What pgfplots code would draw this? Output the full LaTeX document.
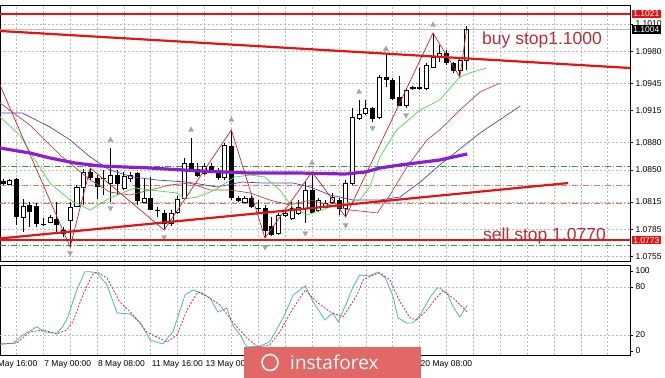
\documentclass[border=0pt]{standalone}
\usepackage{fontspec}
\setmainfont{Liberation Sans}
\newfontfamily\logofont{Open Sans}
\usepackage{pgfplots}
\usepackage{pgfplotstable}
\pgfplotsset{compat=1.18}

\definecolor{trendred}{RGB}{228,20,20}
\definecolor{textred}{RGB}{190,45,55}
\definecolor{mapurple}{RGB}{140,30,210}
\definecolor{mablue}{RGB}{70,70,200}
\definecolor{magreen}{RGB}{90,220,90}
\definecolor{mabrown}{RGB}{190,70,70}
\definecolor{zzred}{RGB}{205,35,45}
\definecolor{dgreen}{RGB}{60,150,60}
\definecolor{dorange}{RGB}{225,120,90}
\definecolor{gridgray}{RGB}{185,185,185}
\definecolor{pricegray}{RGB}{190,190,190}
\definecolor{stochteal}{RGB}{90,190,180}
\definecolor{stochred}{RGB}{210,50,70}
\definecolor{logored}{RGB}{226,104,104}
\definecolor{fractal}{RGB}{165,165,165}

\pgfplotstableread{
i o h l c
0 1.08378 1.08400 1.08335 1.08356
1 1.08346 1.08400 1.08335 1.08389
2 1.08400 1.08411 1.07896 1.07994
3 1.07983 1.08181 1.07819 1.08104
4 1.08115 1.08148 1.07874 1.08049
5 1.08104 1.08137 1.07874 1.07918
6 1.07907 1.07973 1.07885 1.07901
7 1.07929 1.08005 1.07918 1.07983
8 1.07962 1.08148 1.07808 1.07907
9 1.07808 1.07874 1.07764 1.07841
10 1.07951 1.08148 1.07654 1.08093
11 1.08104 1.08335 1.08093 1.08313
12 1.08313 1.08510 1.08115 1.08477
13 1.08477 1.08521 1.08389 1.08422
14 1.08411 1.08444 1.08181 1.08324
15 1.08411 1.08499 1.08225 1.08406
16 1.08356 1.08740 1.08148 1.08444
17 1.08444 1.08499 1.08225 1.08356
18 1.08302 1.08477 1.08280 1.08433
19 1.08411 1.08477 1.08367 1.08444
20 1.08466 1.08477 1.08115 1.08170
21 1.08148 1.08411 1.08137 1.08192
22 1.08192 1.08422 1.08060 1.08071
23 1.08060 1.08093 1.07983 1.08055
24 1.08027 1.08060 1.07852 1.07918
25 1.07918 1.08060 1.07885 1.08027
26 1.08038 1.08214 1.08016 1.08181
27 1.08192 1.08631 1.08181 1.08576
28 1.08576 1.08850 1.08477 1.08499
29 1.08510 1.08576 1.08422 1.08444
30 1.08466 1.08576 1.08444 1.08543
31 1.08543 1.08576 1.08477 1.08488
32 1.08488 1.08521 1.08389 1.08422
33 1.08422 1.08795 1.08389 1.08773
34 1.08762 1.08938 1.08170 1.08203
35 1.08192 1.08214 1.08148 1.08170
36 1.08148 1.08214 1.08137 1.08192
37 1.08192 1.08214 1.08082 1.08104
38 1.08082 1.08170 1.08038 1.08077
39 1.08082 1.08115 1.07753 1.07841
40 1.07885 1.07983 1.07775 1.07797
41 1.07808 1.08027 1.07786 1.08005
42 1.08005 1.08060 1.07983 1.08027
43 1.07973 1.08148 1.07951 1.08082
44 1.08027 1.08170 1.08005 1.08093
45 1.08082 1.08367 1.07918 1.08280
46 1.08280 1.08477 1.08027 1.08038
47 1.08060 1.08192 1.08038 1.08170
48 1.08093 1.08170 1.08082 1.08137
49 1.08148 1.08247 1.08126 1.08203
50 1.08170 1.08192 1.08005 1.08082
51 1.08082 1.08389 1.07983 1.08356
52 1.08356 1.09179 1.08335 1.09081
53 1.09070 1.09267 1.09048 1.09113
54 1.09124 1.09267 1.09102 1.09179
55 1.09179 1.09190 1.09026 1.09070
56 1.09081 1.09541 1.09059 1.09519
57 1.09519 1.09783 1.09410 1.09497
58 1.09486 1.09508 1.09267 1.09289
59 1.09300 1.09530 1.09201 1.09212
60 1.09212 1.09399 1.09179 1.09377
61 1.09399 1.09421 1.09377 1.09404
62 1.09399 1.09618 1.09377 1.09410
63 1.09399 1.09673 1.09377 1.09651
64 1.09629 1.10002 1.09618 1.09739
65 1.09739 1.09870 1.09684 1.09783
66 1.09783 1.09816 1.09651 1.09684
67 1.09673 1.09684 1.09563 1.09596
68 1.09596 1.09739 1.09519 1.09706
69 1.09706 1.10079 1.09596 1.10040
}\candles

\pgfplotstableread{
x y
-0.43 1.08740
4.0 1.08686
7.0 1.08631
10.7 1.08576
14.5 1.08543
21.9 1.08521
29.3 1.08488
36.8 1.08466
44.2 1.08466
50.9 1.08455
53.9 1.08477
56.1 1.08521
59.1 1.08554
65.0 1.08609
69.1 1.08675
}\maPurple

\pgfplotstableread{
x y
-0.43 1.09081
2.5 1.08883
4.8 1.08609
7.0 1.08356
10.0 1.08170
13.0 1.08060
15.9 1.08192
19.7 1.08302
21.9 1.08280
25.9 1.08247
27.1 1.08181
28.9 1.08203
31.6 1.08280
34.5 1.08422
36.8 1.08444
39.0 1.08422
41.2 1.08280
43.2 1.08082
45.3 1.08005
48.7 1.08093
53.1 1.08170
54.6 1.08313
56.1 1.08642
58.6 1.08938
62.1 1.09157
65.0 1.09267
68.0 1.09519
69.9 1.09574
72.0 1.09618
}\maGreen

\pgfplotstableread{
x y
-0.43 1.09234
4.0 1.08993
8.5 1.08664
13.0 1.08389
15.9 1.08258
18.9 1.08225
21.9 1.08280
24.9 1.08335
27.8 1.08356
30.8 1.08280
33.8 1.08280
36.8 1.08247
39.7 1.08170
42.7 1.08115
45.7 1.08170
48.7 1.08115
51.6 1.08060
54.6 1.08038
55.7 1.08027
57.6 1.08225
60.1 1.08532
63.1 1.08828
65.0 1.08938
68.0 1.09157
71.0 1.09355
74.0 1.09453
}\maBrown

\pgfplotstableread{
x y
-0.43 1.09124
2.9 1.09124
7.0 1.08971
10.0 1.08828
13.0 1.08642
15.9 1.08499
19.4 1.08422
23.0 1.08389
27.4 1.08367
31.9 1.08313
35.6 1.08367
39.0 1.08356
43.2 1.08356
45.7 1.08313
48.7 1.08225
52.1 1.08170
56.1 1.08170
59.1 1.08203
62.1 1.08367
65.0 1.08554
71.0 1.08905
77.0 1.09201
}\maBlue

\pgfplotstableread{
x y
-0.43 1.09432
10 1.07654
13 1.08521
24 1.07841
34 1.08938
39 1.07753
46 1.08477
51 1.07983
64 1.10002
68 1.09519
69 1.10040
}\zigzag

\pgfplotstableread{
x y
-0.43 8.4
1.5 9.6
3.0 20
5.1 30.4
6.0 24.1
8.0 22.1
8.9 30.4
9.7 42.9
10.4 61.6
11.2 80.4
12.2 99
13.0 99
14.0 97.5
15.5 82.5
17.0 47.5
18.9 46.3
20.4 36.3
21.9 13.8
23.8 8.8
25.3 23.8
27.1 70
28.3 76.3
29.6 72.5
30.8 66.3
32.0 48.8
33.3 53.8
34.2 32.5
35.3 20
36.3 5
38.3 6.3
39.7 11.3
41.7 41.3
43.2 70
45.0 81.3
46.2 61.3
47.9 38.8
49.1 47.5
49.9 36.3
51.2 61.3
52.1 80
53.1 95
54.6 93.8
55.8 98.8
56.9 91.3
58.0 70
58.8 41.3
60.1 35
61.0 35
62.1 45
63.5 66.3
64.6 78.8
65.0 78.8
66.1 72.5
67.0 55
68.0 42.5
69.1 57.5
}\stochMain

\pgfplotstableread{
x y
-0.43 8.8
2.1 10
4.0 23.8
6.0 26.3
8.0 21.3
9.5 26.3
10.4 36.3
11.9 70
13.3 95
14.0 98.8
15.5 91.3
17.4 61.3
19.4 45
21.4 23.8
24.4 11.3
25.9 20
27.4 51.3
29.0 73.8
30.8 66.3
32.3 57.5
34.2 36.3
36.3 16.3
38.0 5
39.7 7.5
41.2 23.8
43.2 53.8
45.0 76.3
46.7 61.3
48.7 48.8
50.6 42.5
52.7 70
53.6 88.8
55.1 95
56.1 97.5
57.6 88.8
59.1 61.3
60.6 41.3
61.6 38.8
63.1 51.3
64.6 67.5
65.5 75
67.0 66.3
68.5 53.8
69.1 48.8
}\stochSignal

\begin{document}
\begin{tikzpicture}[font=\fontsize{8.5}{10}\selectfont]
% ---------------- main price panel ----------------
\begin{axis}[
  at={(0pt,117pt)}, anchor=south west,
  scale only axis, width=630pt, height=256pt,
  xmin=-0.43, xmax=93.32, ymin=1.07501, ymax=1.10309,
  clip mode=individual,
  axis line style={black, line width=0.8pt},
  xtick={2,6,...,90}, xticklabel=\empty,
  x tick style={draw=none},
  ytick={1.0755,1.0785,1.0815,1.0850,1.0880,1.0915,1.0945,1.0980,1.1010},
  ytick pos=right, yticklabel pos=right,
  tick align=outside, major tick length=3pt,
  y tick style={black, line width=0.5pt},
  scaled y ticks=false,
  yticklabel style={/pgf/number format/fixed, /pgf/number format/precision=4,
    /pgf/number format/fixed zerofill, /pgf/number format/assume math mode=true,
    font=\fontsize{8.5}{10}\selectfont, xshift=-1pt},
  grid=major, grid style={gridgray, dash pattern=on 2pt off 2pt, line width=0.5pt},
]
% horizontal level lines
\addplot[dgreen, line width=0.8pt, dash pattern=on 6pt off 2pt on 1pt off 2pt] coordinates {(-0.43,1.0854) (93.32,1.0854)};
\addplot[dgreen, line width=0.8pt, dash pattern=on 6pt off 2pt on 1pt off 2pt] coordinates {(-0.43,1.07676) (93.32,1.07676)};
\addplot[dorange, line width=0.8pt, dash pattern=on 6pt off 2pt on 1pt off 2pt] coordinates {(-0.43,1.08335) (93.32,1.08335)};
\addplot[dorange, line width=0.8pt, dash pattern=on 6pt off 2pt on 1pt off 2pt] coordinates {(-0.43,1.08137) (93.32,1.08137)};
\addplot[pricegray, line width=0.6pt] coordinates {(-0.43,1.1004) (93.32,1.1004)};
% candles
\pgfplotsinvokeforeach{0,...,69}{%
  \pgfplotstablegetelem{#1}{o}\of\candles\edef\co{\pgfplotsretval}%
  \pgfplotstablegetelem{#1}{h}\of\candles\edef\ch{\pgfplotsretval}%
  \pgfplotstablegetelem{#1}{l}\of\candles\edef\cl{\pgfplotsretval}%
  \pgfplotstablegetelem{#1}{c}\of\candles\edef\cc{\pgfplotsretval}%
  \ifdim\cc pt>\co pt \def\fc{white}\else\def\fc{black}\fi
  \pgfmathsetmacro\xa{#1-0.3}%
  \pgfmathsetmacro\xb{#1+0.3}%
  \edef\doit{\noexpand\addplot[black, line width=0.7pt, forget plot] coordinates {(#1,\cl) (#1,\ch)};%
    \noexpand\addplot[draw=black, fill=\fc, line width=0.6pt, forget plot] coordinates {(\xa,\co) (\xb,\co) (\xb,\cc) (\xa,\cc)} --cycle;}%
  \doit
}
% moving averages
\addplot[mablue, line width=0.7pt] table {\maBlue};
\addplot[mabrown, line width=0.7pt] table {\maBrown};
\addplot[magreen, line width=0.8pt] table {\maGreen};
\addplot[mapurple, line width=3.2pt] table {\maPurple};
\addplot[zzred, line width=0.7pt] table {\zigzag};
% fractals
\addplot[only marks, mark=triangle*, mark size=3pt, fractal] coordinates {(16,1.08828) (28,1.08938) (34,1.09048) (46,1.08576) (53,1.09355) (57,1.09826) (64,1.10090)};
\addplot[only marks, mark=triangle*, mark size=3pt, fractal, mark options={rotate=180}] coordinates {(10,1.07589) (16,1.08082) (24,1.07764) (39,1.07654) (45,1.07808) (51,1.07896) (55,1.08960) (60,1.09102)};
% trend and stop lines
\addplot[trendred, line width=2.2pt] coordinates {(-0.43,1.10024) (93.32,1.09618)};
\addplot[trendred, line width=2.2pt] coordinates {(-0.43,1.07748) (84.1,1.08356)};
\addplot[trendred, line width=2.6pt] coordinates {(-0.43,1.1021) (93.32,1.1021)};
\addplot[trendred, line width=2.6pt] coordinates {(-0.43,1.0773) (93.32,1.0773)};
% price boxes on the scale
\node[fill=trendred, text=white, inner sep=1.2pt, anchor=west, font=\fontsize{8.5}{10}\selectfont] at (axis cs:93.32,1.1021) [xshift=2pt] {1.1021};
\node[fill=black, text=white, inner sep=1.2pt, anchor=west, font=\fontsize{8.5}{10}\selectfont] at (axis cs:93.32,1.1004) [xshift=2pt] {1.1004};
\node[fill=trendred, text=white, inner sep=1.2pt, anchor=west, font=\fontsize{8.5}{10}\selectfont] at (axis cs:93.32,1.0773) [xshift=2pt] {1.0773};
\end{axis}

% ---------------- stochastic panel ----------------
\begin{axis}[
  at={(0pt,23pt)}, anchor=south west,
  scale only axis, width=630pt, height=90pt,
  xmin=-0.43, xmax=93.32, ymin=-5, ymax=107.5,
  clip mode=individual,
  axis line style={black, line width=0.8pt},
  xtick={2,6,...,90}, xticklabel=\empty,
  x tick style={draw=none},
  xmajorgrids, grid style={gridgray, dash pattern=on 2pt off 2pt, line width=0.5pt},
  ytick={0,20,80,100},
  ytick pos=right, yticklabel pos=right,
  tick align=outside, major tick length=3pt,
  y tick style={black, line width=0.5pt},
  yticklabel style={/pgf/number format/assume math mode=true,
    font=\fontsize{8.5}{10}\selectfont, xshift=-1pt},
]
\addplot[gridgray, dash pattern=on 2pt off 2pt, line width=0.5pt] coordinates {(-0.43,20) (93.32,20)};
\addplot[gridgray, dash pattern=on 2pt off 2pt, line width=0.5pt] coordinates {(-0.43,80) (93.32,80)};
\addplot[stochteal, line width=0.9pt] table {\stochMain};
\addplot[stochred, line width=0.8pt, dash pattern=on 2pt off 1.5pt] table {\stochSignal};
\node[anchor=north west, inner sep=0pt] at (axis cs:-2,-5) [yshift=-5pt, xshift=1pt] {5 May 16:00};
\node[anchor=north west, inner sep=0pt] at (axis cs:6,-5) [yshift=-5pt, xshift=1pt] {7 May 00:00};
\node[anchor=north west, inner sep=0pt] at (axis cs:14,-5) [yshift=-5pt, xshift=1pt] {8 May 08:00};
\node[anchor=north west, inner sep=0pt] at (axis cs:22,-5) [yshift=-5pt, xshift=1pt] {11 May 16:00};
\node[anchor=north west, inner sep=0pt] at (axis cs:30,-5) [yshift=-5pt, xshift=1pt] {13 May 00:00};
\node[anchor=north west, inner sep=0pt] at (axis cs:62,-5) [yshift=-5pt, xshift=1pt] {20 May 08:00};
\end{axis}

% ---------------- annotations ----------------
\node[anchor=base west, inner sep=0pt, text=textred, font=\fontsize{17.5}{20}\selectfont] at (482pt,333pt) {buy stop1.1000};
\node[anchor=base west, inner sep=0pt, text=textred, font=\fontsize{17.5}{20}\selectfont] at (483pt,137pt) {sell stop 1.0770};

% logo
\fill[logored] (244pt,0pt) rectangle (421pt,31pt);
\draw[white, line width=1.6pt] (270pt,15.5pt) circle (8pt);
\node[anchor=base west, inner sep=0pt, text=white, font=\logofont\fontsize{19}{20}\selectfont] at (290pt,9pt) {instaforex};

\pgfresetboundingbox
\useasboundingbox (0pt,0pt) rectangle (665pt,378pt);
\end{tikzpicture}
\end{document}
